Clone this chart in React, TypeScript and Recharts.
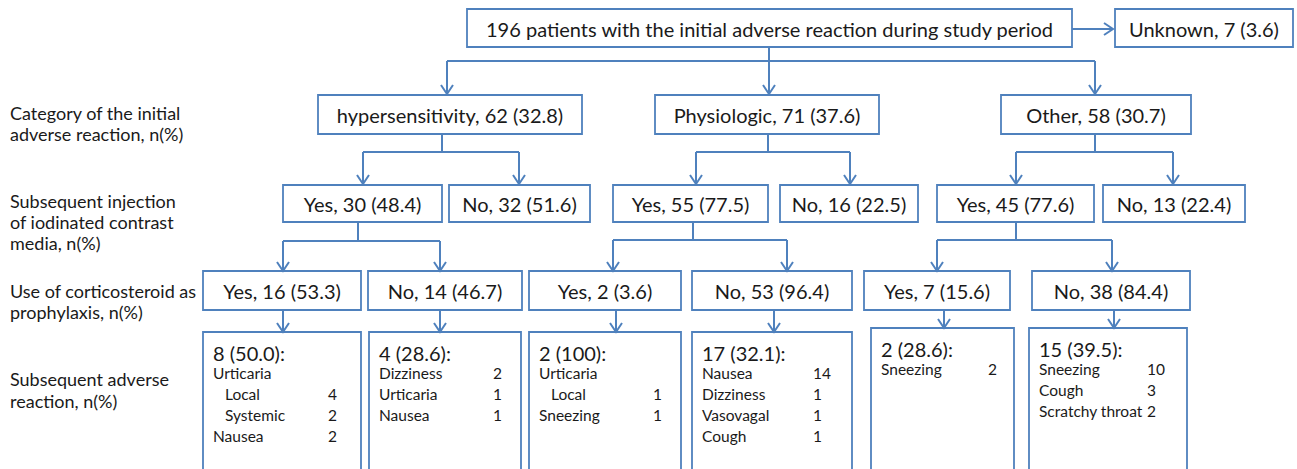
import React from 'react';
import { ComposedChart, XAxis, YAxis, Scatter, ReferenceArea, ReferenceLine } from 'recharts';

// ---------------- data ----------------
const rootLabel = '196 patients with the initial adverse reaction during study period';
const unknownName = 'Unknown';
const unknownN = 7;
const unknownPct = 3.6;

const categories = ['hypersensitivity', 'Physiologic', 'Other'];
const categoryN = [62, 71, 58];
const categoryPct = [32.8, 37.6, 30.7];

const injectionAnswers = ['Yes', 'No', 'Yes', 'No', 'Yes', 'No'];
const injectionN = [30, 32, 55, 16, 45, 13];
const injectionPct = [48.4, 51.6, 77.5, 22.5, 77.6, 22.4];

const steroidAnswers = ['Yes', 'No', 'Yes', 'No', 'Yes', 'No'];
const steroidN = [16, 14, 2, 53, 7, 38];
const steroidPct = [53.3, 46.7, 3.6, 96.4, 15.6, 84.4];

const reactionN = [8, 4, 2, 17, 2, 15];
const reactionPct = [50.0, 28.6, 100, 32.1, 28.6, 39.5];
const reactionNames = [
  ['Urticaria', 'Local', 'Systemic', 'Nausea'],
  ['Dizziness', 'Urticaria', 'Nausea'],
  ['Urticaria', 'Local', 'Sneezing'],
  ['Nausea', 'Dizziness', 'Vasovagal', 'Cough'],
  ['Sneezing'],
  ['Sneezing', 'Cough', 'Scratchy throat'],
];
const reactionCounts: (number | null)[][] = [
  [null, 4, 2, 2],
  [2, 1, 1],
  [null, 1, 1],
  [14, 1, 1, 1],
  [2],
  [10, 3, 2],
];
const reactionIsSubtype = [
  [false, true, true, false],
  [false, false, false],
  [false, true, false],
  [false, false, false, false],
  [false],
  [false, false, false],
];

const rowLabels = [
  ['Category of the initial', 'adverse reaction, n(%)'],
  ['Subsequent injection', 'of iodinated contrast', 'media, n(%)'],
  ['Use of corticosteroid as', 'prophylaxis, n(%)'],
  ['Subsequent adverse', 'reaction, n(%)'],
];

// ---------------- layout (chart units = pixels) ----------------
const W = 1297;
const H = 469;
const FONT = 'Lato, "Open Sans", sans-serif';
const BLUE = '#4F81BD';
const INK = '#1a1a1a';

const rootBox = { x1: 467, x2: 1072, y1: 9, y2: 47 };
const unknownBox = { x1: 1115, x2: 1293, y1: 9, y2: 47 };
const l1X = [[318, 582], [655, 879], [1001, 1191]];
const l1Y = [95, 134];
const l2X = [[283, 442], [449, 590], [613, 768], [780, 918], [937, 1094], [1103, 1245]];
const l2Y = [185, 222];
const l3X = [[203, 361], [368, 522], [529, 681], [692, 852], [864, 1010], [1032, 1190]];
const l3Y = [271, 310];
const l4X = [[203, 361], [369, 521], [529, 681], [692, 852], [871, 1014], [1029, 1187]];
const l4Top = [332, 332, 332, 332, 328, 328];
const l4Bottom = 500;
const l4NumX = [328, 493, 653, 813, 988, 1147];
const l4HeaderDy = 21;
const l4ItemDy0 = 41;
const l4ItemStep = 21;
const rowLabelX = 10;
const rowLabelY = [[113, 134], [201, 222, 243], [291, 312], [379, 401]];

const SIZE_BOX = 20;
const SIZE_HEAD = 20;
const SIZE_ITEM = 15.5;
const SIZE_ROW = 18;

type Seg = [number, number, number, number];
const segments: Seg[] = [
  [1072, 29, 1112, 29],
  [769, 47, 769, 94],
  [447, 61, 1095, 61],
  [447, 61, 447, 94],
  [1095, 61, 1095, 94],
  [442, 134, 442, 152], [363, 152, 519, 152], [363, 152, 363, 184], [519, 152, 519, 184],
  [768, 134, 768, 152], [696, 152, 850, 152], [696, 152, 696, 184], [850, 152, 850, 184],
  [1095, 134, 1095, 152], [1016, 152, 1173, 152], [1016, 152, 1016, 184], [1173, 152, 1173, 184],
  [358, 222, 358, 241], [283, 241, 440, 241], [283, 241, 283, 270], [440, 241, 440, 270],
  [693, 222, 693, 240], [613, 240, 787, 240], [613, 240, 613, 270], [787, 240, 787, 270],
  [1016, 222, 1016, 240], [937, 240, 1112, 240], [937, 240, 937, 270], [1112, 240, 1112, 270],
  [283, 310, 283, 331], [440, 310, 440, 331], [616, 310, 616, 331], [774, 310, 774, 331],
  [944, 310, 944, 327], [1114, 310, 1114, 327],
];
const arrowTips = [
  { x: 1113, y: 29, dir: 'right' },
  { x: 769, y: 94, dir: 'down' }, { x: 447, y: 94, dir: 'down' }, { x: 1095, y: 94, dir: 'down' },
  { x: 363, y: 184, dir: 'down' }, { x: 519, y: 184, dir: 'down' },
  { x: 696, y: 184, dir: 'down' }, { x: 850, y: 184, dir: 'down' },
  { x: 1016, y: 184, dir: 'down' }, { x: 1173, y: 184, dir: 'down' },
  { x: 283, y: 271, dir: 'down' }, { x: 440, y: 271, dir: 'down' },
  { x: 613, y: 271, dir: 'down' }, { x: 787, y: 271, dir: 'down' },
  { x: 937, y: 271, dir: 'down' }, { x: 1112, y: 271, dir: 'down' },
  { x: 283, y: 332, dir: 'down' }, { x: 440, y: 332, dir: 'down' },
  { x: 616, y: 332, dir: 'down' }, { x: 774, y: 332, dir: 'down' },
  { x: 944, y: 328, dir: 'down' }, { x: 1114, y: 328, dir: 'down' },
];

// ---------------- build ----------------
const fmtPct = (p: number) => (p === 100 ? '100' : p.toFixed(1));
const nodeLabel = (name: string, n: number, p: number) => `${name}, ${n} (${fmtPct(p)})`;

type Box = { x1: number; x2: number; y1: number; y2: number };
const boxes: Box[] = [rootBox, unknownBox];
const texts: { x: number; y: number; text: string; size: number; anchor: string }[] = [];

texts.push({ x: (rootBox.x1 + rootBox.x2) / 2, y: 29, text: rootLabel, size: SIZE_BOX, anchor: 'middle' });
texts.push({
  x: (unknownBox.x1 + unknownBox.x2) / 2, y: 29,
  text: nodeLabel(unknownName, unknownN, unknownPct), size: SIZE_BOX, anchor: 'middle',
});

categories.forEach((c, i) => {
  const [x1, x2] = l1X[i];
  boxes.push({ x1, x2, y1: l1Y[0], y2: l1Y[1] });
  texts.push({ x: (x1 + x2) / 2, y: (l1Y[0] + l1Y[1]) / 2, text: nodeLabel(c, categoryN[i], categoryPct[i]), size: SIZE_BOX, anchor: 'middle' });
});
injectionAnswers.forEach((a, i) => {
  const [x1, x2] = l2X[i];
  boxes.push({ x1, x2, y1: l2Y[0], y2: l2Y[1] });
  texts.push({ x: (x1 + x2) / 2, y: (l2Y[0] + l2Y[1]) / 2, text: nodeLabel(a, injectionN[i], injectionPct[i]), size: SIZE_BOX, anchor: 'middle' });
});
steroidAnswers.forEach((a, i) => {
  const [x1, x2] = l3X[i];
  boxes.push({ x1, x2, y1: l3Y[0], y2: l3Y[1] });
  texts.push({ x: (x1 + x2) / 2, y: (l3Y[0] + l3Y[1]) / 2, text: nodeLabel(a, steroidN[i], steroidPct[i]), size: SIZE_BOX, anchor: 'middle' });
});
reactionN.forEach((n, i) => {
  const [x1, x2] = l4X[i];
  const top = l4Top[i];
  boxes.push({ x1, x2, y1: top, y2: l4Bottom });
  texts.push({ x: x1 + 10, y: top + l4HeaderDy, text: `${n} (${fmtPct(reactionPct[i])}):`, size: SIZE_HEAD, anchor: 'start' });
  reactionNames[i].forEach((name, j) => {
    const y = top + l4ItemDy0 + j * l4ItemStep;
    texts.push({ x: x1 + 10 + (reactionIsSubtype[i][j] ? 12 : 0), y, text: name, size: SIZE_ITEM, anchor: 'start' });
    const c = reactionCounts[i][j];
    if (c !== null) texts.push({ x: l4NumX[i], y, text: String(c), size: SIZE_ITEM, anchor: 'start' });
  });
});
rowLabels.forEach((lines, i) => {
  lines.forEach((t, j) => {
    texts.push({ x: rowLabelX, y: rowLabelY[i][j], text: t, size: SIZE_ROW, anchor: 'start' });
  });
});

const TextShape = (props: any) => {
  const { cx, cy, payload } = props;
  return (
    <text
      x={cx}
      y={cy}
      textAnchor={payload.anchor}
      dominantBaseline="central"
      fontFamily={FONT}
      fontSize={payload.size}
      fill={INK}
    >
      {payload.text}
    </text>
  );
};

const ArrowShape = (props: any) => {
  const { cx, cy, payload } = props;
  const pts =
    payload.dir === 'right'
      ? `${cx - 9},${cy - 6} ${cx},${cy} ${cx - 9},${cy + 6}`
      : `${cx - 6},${cy - 9} ${cx},${cy} ${cx + 6},${cy - 9}`;
  return <polyline points={pts} fill="none" stroke={BLUE} strokeWidth={2} strokeLinejoin="miter" />;
};

export default function App() {
  return (
    <div style={{ position: 'absolute', left: 0, top: 0, width: W, height: H, background: '#fff' }}>
      <ComposedChart width={W} height={H} margin={{ top: 0, right: 0, bottom: 0, left: 0 }}>
        <XAxis type="number" dataKey="x" domain={[0, W]} hide allowDataOverflow />
        <YAxis type="number" dataKey="y" domain={[0, H]} reversed hide allowDataOverflow />
        {segments.map((s, i) => (
          <ReferenceLine
            key={`s${i}`}
            segment={[{ x: s[0], y: s[1] }, { x: s[2], y: s[3] }]}
            stroke={BLUE}
            strokeWidth={2}
            ifOverflow="visible"
          />
        ))}
        {boxes.map((b, i) => (
          <ReferenceArea
            key={`b${i}`}
            x1={b.x1}
            x2={b.x2}
            y1={b.y1}
            y2={b.y2}
            fill="none"
            fillOpacity={0}
            stroke={BLUE}
            strokeWidth={1.8}
            ifOverflow="visible"
          />
        ))}
        <Scatter data={arrowTips} shape={ArrowShape} isAnimationActive={false} />
        <Scatter data={texts} shape={TextShape} isAnimationActive={false} />
      </ComposedChart>
    </div>
  );
}
